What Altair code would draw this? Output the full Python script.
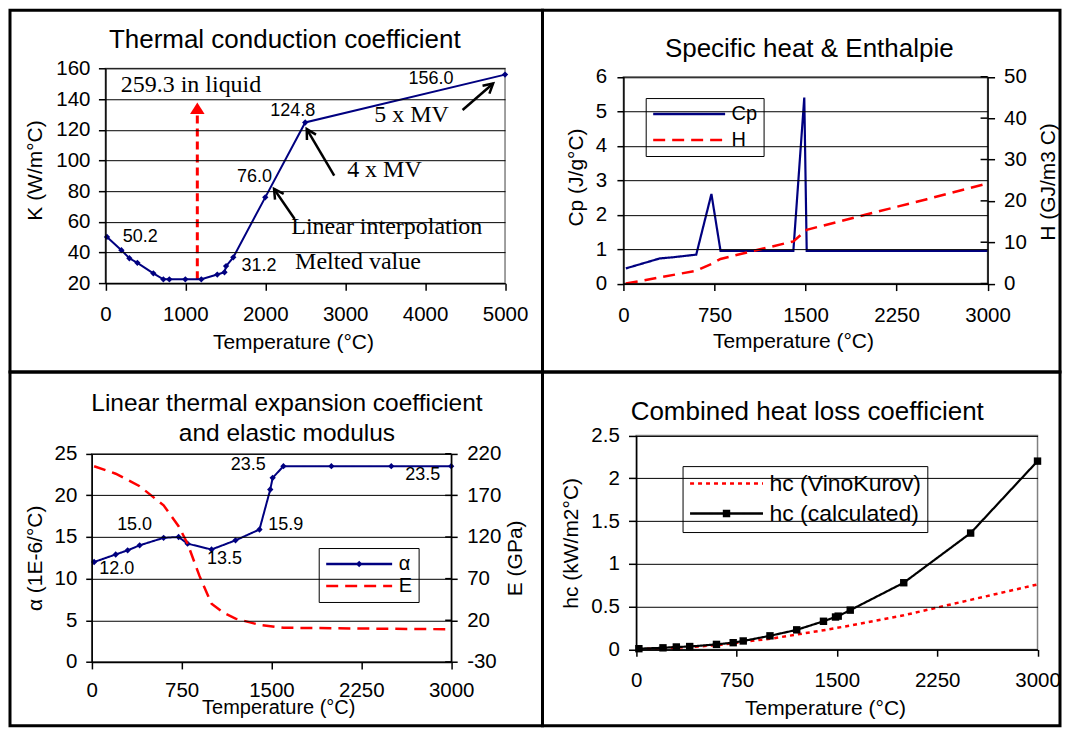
import altair as alt
import pandas as pd

FONT = "Liberation Sans"
SERIF = "Liberation Serif"
NAVY = "#000080"
RED = "#ff0000"
GRAY = "#808080"
T_TITLE = "Temperature (°C)"

# ---------------- Panel 1 : thermal conduction coefficient ----------------
k_temp = [20, 200, 300, 400, 600, 725, 800, 1000, 1200, 1400, 1490, 1510, 1600, 2000, 2500, 5000]
k_value = [50.2, 41.6, 36.3, 33.3, 26.5, 22.6, 22.6, 22.6, 22.6, 25.7, 27.2, 31.2, 36.9, 76.0, 124.8, 156.0]
k_label_text = ["50.2", "31.2", "76.0", "124.8", "156.0"]
k_label_temp = [435, 1922, 1864, 2343, 4075]
k_label_value = [46.7, 27.8, 85.8, 129.2, 150.2]
k_note_text = ["259.3 in liquid", "5 x MV", "4 x MV", "Linear interpolation", "Melted value"]
k_note_temp = [1071, 3831, 3491, 3521, 3160]
k_note_value = [144.8, 124.8, 89.0, 52.2, 29.4]
arrow_from_temp = [4469, 2863, 2368]
arrow_from_value = [132.9, 90.1, 61.9]
arrow_to_temp = [4851, 2519, 2110]
arrow_to_value = [150.2, 120.5, 81.5]
arrow_angle = [49, 330, 326]
liquid_temp = [1150]
liquid_from = [22.6]
liquid_to = [131.0]
liquid_head = [134.1]

# ---------------- Panel 2 : specific heat & enthalpie ----------------
cp_temp = [20, 300, 400, 600, 725, 800, 1400, 1490, 1510, 2000, 2500, 3000]
cp_value = [0.44, 0.73, 0.76, 0.84, 2.6, 0.95, 0.95, 5.4, 0.95, 0.95, 0.95, 0.95]
h_temp = [20, 300, 600, 725, 800, 1000, 1200, 1400, 1510, 2000, 2500, 3000]
h_value = [0.0, 1.5, 3.1, 4.75, 5.95, 7.4, 8.8, 10.2, 13.0, 16.7, 20.4, 24.2]

# ---------------- Panel 3 : expansion coefficient & elastic modulus ----------------
a_temp = [20, 200, 300, 400, 600, 725, 800, 1000, 1200, 1400, 1490, 1510, 1600, 2000, 2500, 3000]
a_value = [12.0, 12.9, 13.4, 14.0, 14.9, 15.0, 14.2, 13.5, 14.6, 15.9, 20.7, 22.1, 23.5, 23.5, 23.5, 23.5]
a_label_text = ["12.0", "15.0", "13.5", "15.9", "23.5", "23.5"]
a_label_temp = [208, 358, 1108, 1619, 1306, 2762]
a_label_value = [10.6, 15.8, 11.8, 15.9, 23.0, 21.8]
e_temp = [20, 200, 400, 600, 725, 800, 900, 1000, 1100, 1200, 1400, 1600, 2000, 2500, 3000]
e_value = [205, 196, 181, 158, 133, 112, 73, 40, 29, 22, 14.5, 11, 10.5, 9.8, 9.2]

# ---------------- Panel 4 : combined heat loss coefficient ----------------
hc_temp = [20, 200, 300, 400, 600, 725, 800, 1000, 1200, 1400, 1490, 1510, 1600, 2000, 2500, 3000]
hc_value = [0.01, 0.02, 0.03, 0.035, 0.06, 0.08, 0.10, 0.16, 0.23, 0.33, 0.38, 0.39, 0.46, 0.78, 1.36, 2.20]
vk_temp = [20, 200, 400, 600, 800, 1000, 1200, 1400, 1600, 2000, 2250, 2500, 3000]
vk_value = [0.005, 0.015, 0.03, 0.05, 0.09, 0.125, 0.175, 0.225, 0.28, 0.40, 0.49, 0.58, 0.76]

# symbol paths
ARROW_V = "M-0.55,1L0,0L0.55,1"
HEAD_UP = "M0,-0.8L1,0.8L-1,0.8Z"
NO_MARK = "M0,0"

QW_L, QW_R, QH_T, QH_B = 533, 518, 362, 354


def ax(**kw):
    base = dict(labelFont=FONT, labelFontSize=20.5, labelColor="black",
                titleFont=FONT, titleFontSize=21, titleFontWeight="normal", titleColor="black",
                domainColor="black", domainWidth=1.5, tickColor="black", tickWidth=1.5,
                tickSize=7, grid=False, zindex=1, titleAlign="center", titleBaseline="alphabetic",
                labelFlush=False, labelOverlap=False)
    base.update(kw)
    return alt.Axis(**base)


def frame(xs, xa, ys, ya, ytitle, xd, yd):
    return alt.Chart(pd.DataFrame({"_": [0]})).mark_rect(
        fill="transparent", stroke=GRAY, strokeWidth=1.5).encode(
        x=alt.XDatum(xd[0], type="quantitative", scale=xs, axis=xa, title=T_TITLE),
        x2=alt.X2Datum(xd[1]),
        y=alt.YDatum(yd[0], type="quantitative", scale=ys, axis=ya, title=ytitle),
        y2=alt.Y2Datum(yd[1]))


def title(text, size, base, dx, lines=1):
    # Vega puts the bottom of the title block at -offset; shift by the block height
    return alt.TitleParams(text, font=FONT, fontSize=size, fontWeight="normal", color="black",
                           anchor="middle", frame="group", baseline="alphabetic",
                           offset=-(base + size + 30 * (lines - 1)), dx=dx, lineHeight=30)


def legend(x, y, length, size, pad, rowpad, clip):
    return alt.Legend(orient="none", legendX=x, legendY=y, title=None, symbolType="stroke",
                      symbolSize=length * length, symbolStrokeWidth=2.5, clipHeight=clip,
                      labelFont=FONT, labelFontSize=size, labelColor="black", fillColor="white",
                      strokeColor="black", padding=pad, rowPadding=rowpad, labelOffset=5)


def marker_legend(x, y, size, pad, rowpad, clip, msize, moffset, mcolor):
    # invisible companion legend (no box, empty labels) drawing only the point marker
    # on top of the line symbol of the main legend
    return alt.Legend(orient="none", legendX=x, legendY=y, title=None,
                      symbolSize=msize, symbolStrokeWidth=0, symbolOffset=moffset,
                      symbolFillColor=mcolor, symbolOpacity=1, clipHeight=clip,
                      labelFont=FONT, labelFontSize=size, labelExpr="''",
                      padding=pad, rowPadding=rowpad, labelOffset=5)


# ---------------- Panel 1 ----------------
xs1 = alt.Scale(domain=[0, 5000], range=[95.5, 495.5], nice=False, zero=False)
ys1 = alt.Scale(domain=[20, 160], range=[273.2, 58.2], nice=False, zero=False)
xa1 = ax(values=[0, 1000, 2000, 3000, 4000, 5000], offset=273.2 - QH_T, labelPadding=14,
         format="d", titleX=283.2, titleY=65)
ya1 = ax(values=[20, 40, 60, 80, 100, 120, 140, 160], offset=-95.5, labelPadding=8.5,
         grid=True, gridColor="black", gridWidth=1, titleX=-63.5, titleY=159.8, titleAngle=270)
KT = "K (W/m°C)"


def X1(f):
    return alt.X(f, type="quantitative", scale=xs1, axis=xa1, title=T_TITLE)


def Y1(f):
    return alt.Y(f, type="quantitative", scale=ys1, axis=ya1, title=KT)


df_k = pd.DataFrame({"T": k_temp, "K": k_value})
df_klab = pd.DataFrame({"T": k_label_temp, "K": k_label_value, "txt": k_label_text})
df_note = pd.DataFrame({"T": k_note_temp, "K": k_note_value, "txt": k_note_text})
df_arrow = pd.DataFrame({"T0": arrow_from_temp, "K0": arrow_from_value,
                         "T1": arrow_to_temp, "K1": arrow_to_value, "ang": arrow_angle})
df_liq = pd.DataFrame({"T": liquid_temp, "K0": liquid_from, "K1": liquid_to, "Kh": liquid_head})

p1 = alt.layer(
    frame(xs1, xa1, ys1, ya1, KT, [0, 5000], [20, 160]),
    alt.Chart(df_liq).mark_rule(color=RED, strokeWidth=3, strokeDash=[8, 5]).encode(
        x=X1("T"), y=Y1("K0"), y2="K1"),
    alt.Chart(df_liq).mark_point(shape=HEAD_UP, filled=True, color=RED, size=210, opacity=1).encode(
        x=X1("T"), y=Y1("Kh")),
    alt.Chart(df_k).mark_line(color=NAVY, strokeWidth=2).encode(x=X1("T"), y=Y1("K")),
    alt.Chart(df_k).mark_point(shape="diamond", filled=True, color=NAVY, size=40, opacity=1).encode(
        x=X1("T"), y=Y1("K")),
    alt.Chart(df_klab).mark_text(font=FONT, fontSize=18, align="center", baseline="alphabetic",
                                 color="black").encode(x=X1("T"), y=Y1("K"), text="txt:N"),
    alt.Chart(df_note).mark_text(font=SERIF, fontSize=24, align="center", baseline="alphabetic",
                                 color="black").encode(x=X1("T"), y=Y1("K"), text="txt:N"),
    alt.Chart(df_arrow).mark_rule(color="black", strokeWidth=2.5).encode(
        x=X1("T0"), y=Y1("K0"), x2="T1", y2="K1"),
    alt.Chart(df_arrow).mark_point(shape=ARROW_V, filled=False, color="black", strokeWidth=2.5,
                                   size=360, opacity=1).encode(
        x=X1("T1"), y=Y1("K1"), angle=alt.Angle("ang:Q", scale=None)),
).properties(width=QW_L, height=QH_T,
             title=title("Thermal conduction coefficient", 26, 37.2, 8.5))

# ---------------- Panel 2 ----------------
xs2 = alt.Scale(domain=[0, 3000], range=[81, 445.5], nice=False, zero=False)
ys2 = alt.Scale(domain=[0, 6], range=[273.5, 66.5], nice=False, zero=False)
ys2r = alt.Scale(domain=[0, 50], range=[273.5, 66.5], nice=False, zero=False)
xa2 = ax(values=[0, 750, 1500, 2250, 3000], offset=273.5 - QH_T, labelPadding=14.8,
         format="d", titleX=250.7, titleY=63.7)
ya2 = ax(values=[0, 1, 2, 3, 4, 5, 6], offset=-81, tickSize=6.5, labelPadding=10.4,
         grid=True, gridColor="black", gridWidth=1, titleX=-40.5, titleY=166.8, titleAngle=270)
ya2r = ax(values=[0, 10, 20, 30, 40, 50], orient="right", offset=445.5 - QW_R, labelPadding=9,
          titleX=66.5, titleY=171.3, titleAngle=270)
CPT = "Cp (J/g°C)"
HT = "H (GJ/m3 C)"
names2 = ["Cp", "H"]
leg2 = legend(103.3, 87.8, 72, 20, 6, 6, 20)
col2 = alt.Color("s2:N", scale=alt.Scale(domain=names2, range=[NAVY, RED]), legend=leg2)
dash2 = alt.StrokeDash("s2:N", scale=alt.Scale(domain=names2, range=[[1, 0], [12, 7]]), legend=leg2)


def X2(f):
    return alt.X(f, type="quantitative", scale=xs2, axis=xa2, title=T_TITLE)


df_cp = pd.DataFrame({"T": cp_temp, "v": cp_value, "s2": names2[0]})
df_h = pd.DataFrame({"T": h_temp, "v": h_value, "s2": names2[1]})
df_rt2 = pd.DataFrame({"v": [0, 10, 20, 30, 40, 50]})

left2 = alt.layer(
    frame(xs2, xa2, ys2, ya2, CPT, [0, 3000], [0, 6]),
    alt.Chart(df_cp).mark_line(strokeWidth=2.2).encode(
        x=X2("T"), y=alt.Y("v:Q", scale=ys2, axis=ya2, title=CPT), color=col2, strokeDash=dash2),
)
right2 = alt.layer(
    alt.Chart(df_h).mark_line(strokeWidth=2.5).encode(
        x=X2("T"), y=alt.Y("v:Q", scale=ys2r, axis=ya2r, title=HT), color=col2, strokeDash=dash2),
    alt.Chart(df_rt2).mark_tick(orient="horizontal", size=7, thickness=1.5, color="black",
                                xOffset=-3.5, opacity=1).encode(
        x=alt.XDatum(3000, type="quantitative", scale=xs2, axis=xa2, title=T_TITLE),
        y=alt.Y("v:Q", scale=ys2r, axis=ya2r, title=HT)),
)
p2 = alt.layer(left2, right2).resolve_scale(y="independent").properties(
    width=QW_R, height=QH_T, title=title("Specific heat & Enthalpie", 26, 47.2, 8))

# ---------------- Panel 3 ----------------
xs3 = alt.Scale(domain=[0, 3000], range=[81.8, 441.6], nice=False, zero=False)
ys3 = alt.Scale(domain=[0, 25], range=[290.2, 81.8], nice=False, zero=False)
ys3r = alt.Scale(domain=[-30, 220], range=[290.2, 81.8], nice=False, zero=False)
xa3 = ax(values=[0, 750, 1500, 2250, 3000], offset=290.2 - QH_B, labelPadding=11.8,
         format="d", titleFontSize=20, titleX=268.5, titleY=51.6)
ya3 = ax(values=[0, 5, 10, 15, 20, 25], offset=-81.8, tickSize=6, labelPadding=8.9,
         grid=True, gridColor="black", gridWidth=1, titleX=-50.5, titleY=186, titleAngle=270)
ya3r = ax(values=[-30, 20, 70, 120, 170, 220], orient="right", offset=441.6 - QW_L, tickSize=6,
          labelPadding=9.5, labelExpr="'' + datum.value", titleX=70, titleY=186, titleAngle=270)
AT = "α (1E-6/°C)"
ET = "E (GPa)"
names3 = ["α", "E"]
marks3 = ["α marker", "E marker"]
leg3 = legend(309, 176.2, 66, 20, 6, 2, 20)
mleg3 = marker_legend(309, 176.2, 20, 6, 2, 20, 40, 24.5, NAVY)
col3 = alt.Color("s3:N", scale=alt.Scale(domain=names3, range=[NAVY, RED]), legend=leg3)
dash3 = alt.StrokeDash("s3:N", scale=alt.Scale(domain=names3, range=[[1, 0], [12, 7]]), legend=leg3)
shape3 = alt.Shape("m3:N", scale=alt.Scale(domain=marks3, range=["diamond", NO_MARK]), legend=mleg3)


def X3(f):
    return alt.X(f, type="quantitative", scale=xs3, axis=xa3, title=T_TITLE)


def Y3(f):
    return alt.Y(f, type="quantitative", scale=ys3, axis=ya3, title=AT)


df_a = pd.DataFrame({"T": a_temp, "v": a_value, "s3": names3[0], "m3": marks3[0]})
df_alab = pd.DataFrame({"T": a_label_temp, "v": a_label_value, "txt": a_label_text})
df_e = pd.DataFrame({"T": e_temp, "v": e_value, "s3": names3[1]})
df_rt3 = pd.DataFrame({"v": [-30, 20, 70, 120, 170, 220]})

left3 = alt.layer(
    frame(xs3, xa3, ys3, ya3, AT, [0, 3000], [0, 25]),
    alt.Chart(df_a).mark_line(strokeWidth=2).encode(
        x=X3("T"), y=Y3("v"), color=col3, strokeDash=dash3),
    alt.Chart(df_a).mark_point(filled=True, color=NAVY, size=40, opacity=1).encode(
        x=X3("T"), y=Y3("v"), shape=shape3),
    alt.Chart(df_alab).mark_text(font=FONT, fontSize=18, align="center", baseline="alphabetic",
                                 color="black").encode(x=X3("T"), y=Y3("v"), text="txt:N"),
)
right3 = alt.layer(
    alt.Chart(df_e).mark_line(strokeWidth=2.5).encode(
        x=X3("T"), y=alt.Y("v:Q", scale=ys3r, axis=ya3r, title=ET), color=col3, strokeDash=dash3),
    alt.Chart(df_rt3).mark_tick(orient="horizontal", size=6, thickness=1.5, color="black",
                                xOffset=-3, opacity=1).encode(
        x=alt.XDatum(3000, type="quantitative", scale=xs3, axis=xa3, title=T_TITLE),
        y=alt.Y("v:Q", scale=ys3r, axis=ya3r, title=ET)),
)
p3 = alt.layer(left3, right3).resolve_scale(y="independent").properties(
    width=QW_L, height=QH_B,
    title=title(["Linear thermal expansion coefficient", "and elastic modulus"], 24.5, 39.2, 10.7,
                lines=2))

# ---------------- Panel 4 ----------------
xs4 = alt.Scale(domain=[0, 3000], range=[93.8, 495.5], nice=False, zero=False)
ys4 = alt.Scale(domain=[0, 2.5], range=[277.8, 63.5], nice=False, zero=False)
xa4 = ax(values=[0, 750, 1500, 2250, 3000], offset=277.8 - QH_B, tickSize=6.7, labelPadding=14.2,
         format="d", titleX=282.8, titleY=64.7)
ya4 = ax(values=[0, 0.5, 1, 1.5, 2, 2.5], offset=-93.8, tickSize=7.7, labelPadding=9.2,
         labelExpr="'' + datum.value", grid=True, gridColor="black", gridWidth=1,
         titleX=-58.3, titleY=171, titleAngle=270)
HCT = "hc (kW/m2°C)"
names4 = ["hc (VinoKurov)", "hc (calculated)"]
marks4 = ["VinoKurov marker", "calculated marker"]
leg4 = legend(140.2, 94.2, 73, 23, 6, 6, 23)
mleg4 = marker_legend(140.2, 94.2, 23, 6, 6, 23, 55, 26.5, "black")
col4 = alt.Color("s4:N", scale=alt.Scale(domain=names4, range=[RED, "black"]), legend=leg4)
dash4 = alt.StrokeDash("s4:N", scale=alt.Scale(domain=names4, range=[[4, 4], [1, 0]]), legend=leg4)
shape4 = alt.Shape("m4:N", scale=alt.Scale(domain=marks4, range=[NO_MARK, "square"]), legend=mleg4)


def X4(f):
    return alt.X(f, type="quantitative", scale=xs4, axis=xa4, title=T_TITLE)


def Y4(f):
    return alt.Y(f, type="quantitative", scale=ys4, axis=ya4, title=HCT)


df_vk = pd.DataFrame({"T": vk_temp, "v": vk_value, "s4": names4[0]})
df_hc = pd.DataFrame({"T": hc_temp, "v": hc_value, "s4": names4[1], "m4": marks4[1]})

p4 = alt.layer(
    frame(xs4, xa4, ys4, ya4, HCT, [0, 3000], [0, 2.5]),
    alt.Chart(df_vk).mark_line(strokeWidth=2.5).encode(
        x=X4("T"), y=Y4("v"), color=col4, strokeDash=dash4),
    alt.Chart(df_hc).mark_line(strokeWidth=2.2).encode(
        x=X4("T"), y=Y4("v"), color=col4, strokeDash=dash4),
    alt.Chart(df_hc).mark_point(filled=True, color="black", size=55, opacity=1).encode(
        x=X4("T"), y=Y4("v"), shape=shape4),
).properties(width=QW_R, height=QH_B,
             title=title("Combined heat loss coefficient", 26, 48.5, 6))

chart = alt.concat(p1, p2, p3, p4, columns=2, spacing=0, bounds="flush").resolve_scale(
    color="independent", strokeDash="independent", shape="independent"
).resolve_legend(color="independent", strokeDash="independent", shape="independent").properties(
    padding=0, background="white"
).configure_view(stroke="black", strokeWidth=3)

chart.save("out.html", embed_options={"renderer": "svg", "actions": False})
